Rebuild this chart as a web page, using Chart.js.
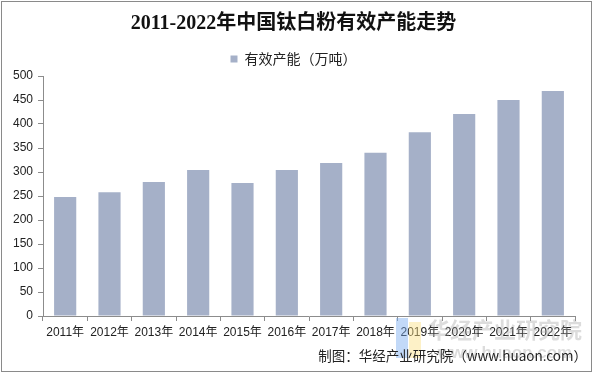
<!DOCTYPE html>
<html>
<head>
<meta charset="utf-8">
<script src="https://cdn.jsdelivr.net/npm/chart.js@4/dist/chart.umd.min.js"></script>
<style>
	html, body { margin: 0; padding: 0; background: #fff; }
	#wrap { width: 595px; height: 375px; position: relative; }
</style>
</head>
<body>
<div id="wrap"><canvas id="js_chart_canvas" width="595" height="375"></canvas></div>
<script>

// Data
let years = [ "2011年", "2012年", "2013年", "2014年", "2015年", "2016年", "2017年", "2018年", "2019年", "2020年", "2021年", "2022年" ]
let capacity = [ 248, 258, 279, 304, 277, 304, 319, 340, 383, 421, 450, 469 ]
let seriesName = "有效产能（万吨）"
let titleText = "2011-2022年中国钛白粉有效产能走势"
let sourceText = "制图：华经产业研究院（www.huaon.com）"

let barColor = "rgb( 165, 176, 200 )"
let axisColor = "#8c8c8c"
let textColor = "#222"

// Border, source line and the faint watermark
let decorPlugin = {
	id: "decor",
	afterDraw ( chart ) {
		let ctx = chart.ctx
		ctx.save()

		// watermark
		ctx.globalAlpha = 0.35
		ctx.fillStyle = "#9a9a9a"
		ctx.font = "bold 22px 'Noto Sans CJK SC'"
		ctx.textAlign = "center"
		ctx.textBaseline = "middle"
		ctx.fillText( "华经产业研究院", 505, 330 )
		ctx.font = "bold 17px 'Liberation Sans'"
		ctx.fillText( "www.huaon.com", 505, 353 )
		ctx.globalAlpha = 0.45
		ctx.fillStyle = "rgb( 120, 170, 240 )"
		ctx.fillRect( 396, 318, 12, 40 )
		ctx.fillStyle = "rgb( 250, 225, 130 )"
		ctx.fillRect( 409, 322, 12, 36 )
		ctx.globalAlpha = 1

		// source
		ctx.fillStyle = textColor
		ctx.font = "13.5px 'Noto Sans CJK SC'"
		ctx.textAlign = "right"
		ctx.textBaseline = "middle"
		ctx.fillText( sourceText, 587, 356 )

		// outer frame
		ctx.strokeStyle = "#8a8a8a"
		ctx.lineWidth = 1
		ctx.strokeRect( 1.5, 1.5, 590, 370 )
		ctx.restore()
	}
}

let canvasElement = document.getElementById( "js_chart_canvas" )

let chartData = {
	labels: years,
	datasets: [ {
		label: seriesName,
		data: capacity,
		backgroundColor: barColor,
		borderWidth: 0,
		categoryPercentage: 1,
		barPercentage: 0.5
	} ]
}

let chartScales = {
	y: {
		min: 0,
		max: 500,
		ticks: {
			stepSize: 50,
			color: textColor,
			padding: 5,
			font: { family: "'Liberation Sans', Arial", size: 12 }
		},
		grid: {
			drawOnChartArea: false,
			tickLength: 5,
			color: axisColor
		},
		border: { display: true, color: axisColor },
		afterFit ( scale ) { scale.width = 31 }
	},
	x: {
		ticks: {
			color: textColor,
			padding: 4,
			maxRotation: 0,
			autoSkip: false,
			font: { family: "'Liberation Sans', 'Noto Sans CJK SC'", size: 12 }
		},
		grid: {
			drawOnChartArea: false,
			tickLength: 5,
			offset: true,
			color: axisColor
		},
		border: { display: true, color: axisColor },
		afterFit ( scale ) { scale.height = 54 }
	}
}

let chartConfig = {
	type: "bar",
	data: chartData,
	options: {
		responsive: false,
		animation: false,
		layout: { padding: { left: 12, right: 20, top: 8, bottom: 5 } },
		scales: chartScales,
		plugins: {
			title: {
				display: true,
				text: titleText,
				color: "#111",
				font: { family: "'Liberation Serif', 'Noto Sans CJK SC'", size: 20, weight: "bold" },
				padding: { top: 4, bottom: 10 }
			},
			legend: {
				display: true,
				labels: {
					boxWidth: 7,
					boxHeight: 7,
					color: textColor,
					font: { family: "'Noto Sans CJK SC'", size: 14 },
					padding: 6
				}
			},
			tooltip: { enabled: false }
		}
	},
	plugins: [ decorPlugin ]
}

let chart = new Chart( canvasElement, chartConfig )
</script>
</body>
</html>
